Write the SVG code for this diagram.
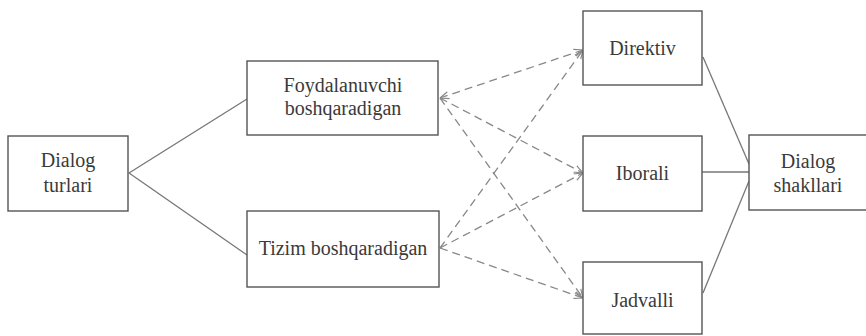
<svg xmlns="http://www.w3.org/2000/svg" width="866" height="336" viewBox="0 0 866 336">
<style>
.box{fill:#fff;stroke:#555;stroke-width:1.4}
.t{font-family:"Liberation Serif","Times New Roman",serif;font-size:20px;fill:#3a3a3a;text-anchor:middle}
.s{stroke:#777;stroke-width:1.3;fill:none}
.d{stroke:#888;stroke-width:1.3;fill:none;stroke-dasharray:8 5}
</style>
<defs>
<marker id="ah" viewBox="0 0 10 10" refX="10" refY="5" markerWidth="9" markerHeight="9" orient="auto-start-reverse" markerUnits="userSpaceOnUse">
<path d="M0,1 L10,5 L0,9" fill="none" stroke="#888" stroke-width="1.3"/>
</marker>
</defs>
<rect width="866" height="336" fill="#fff"/>
<g id="connectors">
<line class="s" x1="129" y1="173" x2="247" y2="99"/>
<line class="s" x1="129" y1="173" x2="247" y2="255"/>
<line class="s" x1="703" y1="57" x2="749" y2="164"/>
<line class="s" x1="702" y1="172" x2="749" y2="172"/>
<line class="s" x1="703" y1="293" x2="749" y2="181"/>
<line class="d" x1="440" y1="98" x2="583" y2="50" marker-start="url(#ah)" marker-end="url(#ah)"/>
<line class="d" x1="440" y1="98" x2="583" y2="173" marker-end="url(#ah)"/>
<line class="d" x1="440" y1="98" x2="583" y2="298" marker-end="url(#ah)"/>
<line class="d" x1="440" y1="248" x2="583" y2="50" marker-end="url(#ah)"/>
<line class="d" x1="440" y1="248" x2="583" y2="173" marker-end="url(#ah)"/>
<line class="d" x1="440" y1="248" x2="583" y2="298" marker-end="url(#ah)"/>
</g>
<g id="dialog-turlari">
<rect class="box" x="8" y="136" width="120" height="75"/>
<text class="t" x="68" y="167">Dialog</text>
<text class="t" x="68" y="192">turlari</text>
</g>
<g id="foydalanuvchi">
<rect class="box" x="247" y="61" width="191" height="74"/>
<text class="t" x="343" y="92">Foydalanuvchi</text>
<text class="t" x="343" y="115">boshqaradigan</text>
</g>
<g id="tizim">
<rect class="box" x="247" y="211" width="192" height="76"/>
<text class="t" x="343" y="255">Tizim boshqaradigan</text>
</g>
<g id="direktiv">
<rect class="box" x="583" y="11" width="119" height="74"/>
<text class="t" x="642.5" y="55">Direktiv</text>
</g>
<g id="iborali">
<rect class="box" x="583" y="136" width="119" height="75"/>
<text class="t" x="642.5" y="180">Iborali</text>
</g>
<g id="jadvalli">
<rect class="box" x="583" y="262" width="119" height="72"/>
<text class="t" x="642.5" y="307">Jadvalli</text>
</g>
<g id="dialog-shakllari">
<rect class="box" x="749" y="135" width="130" height="75"/>
<text class="t" x="808" y="168">Dialog</text>
<text class="t" x="808" y="192">shakllari</text>
</g>
</svg>
